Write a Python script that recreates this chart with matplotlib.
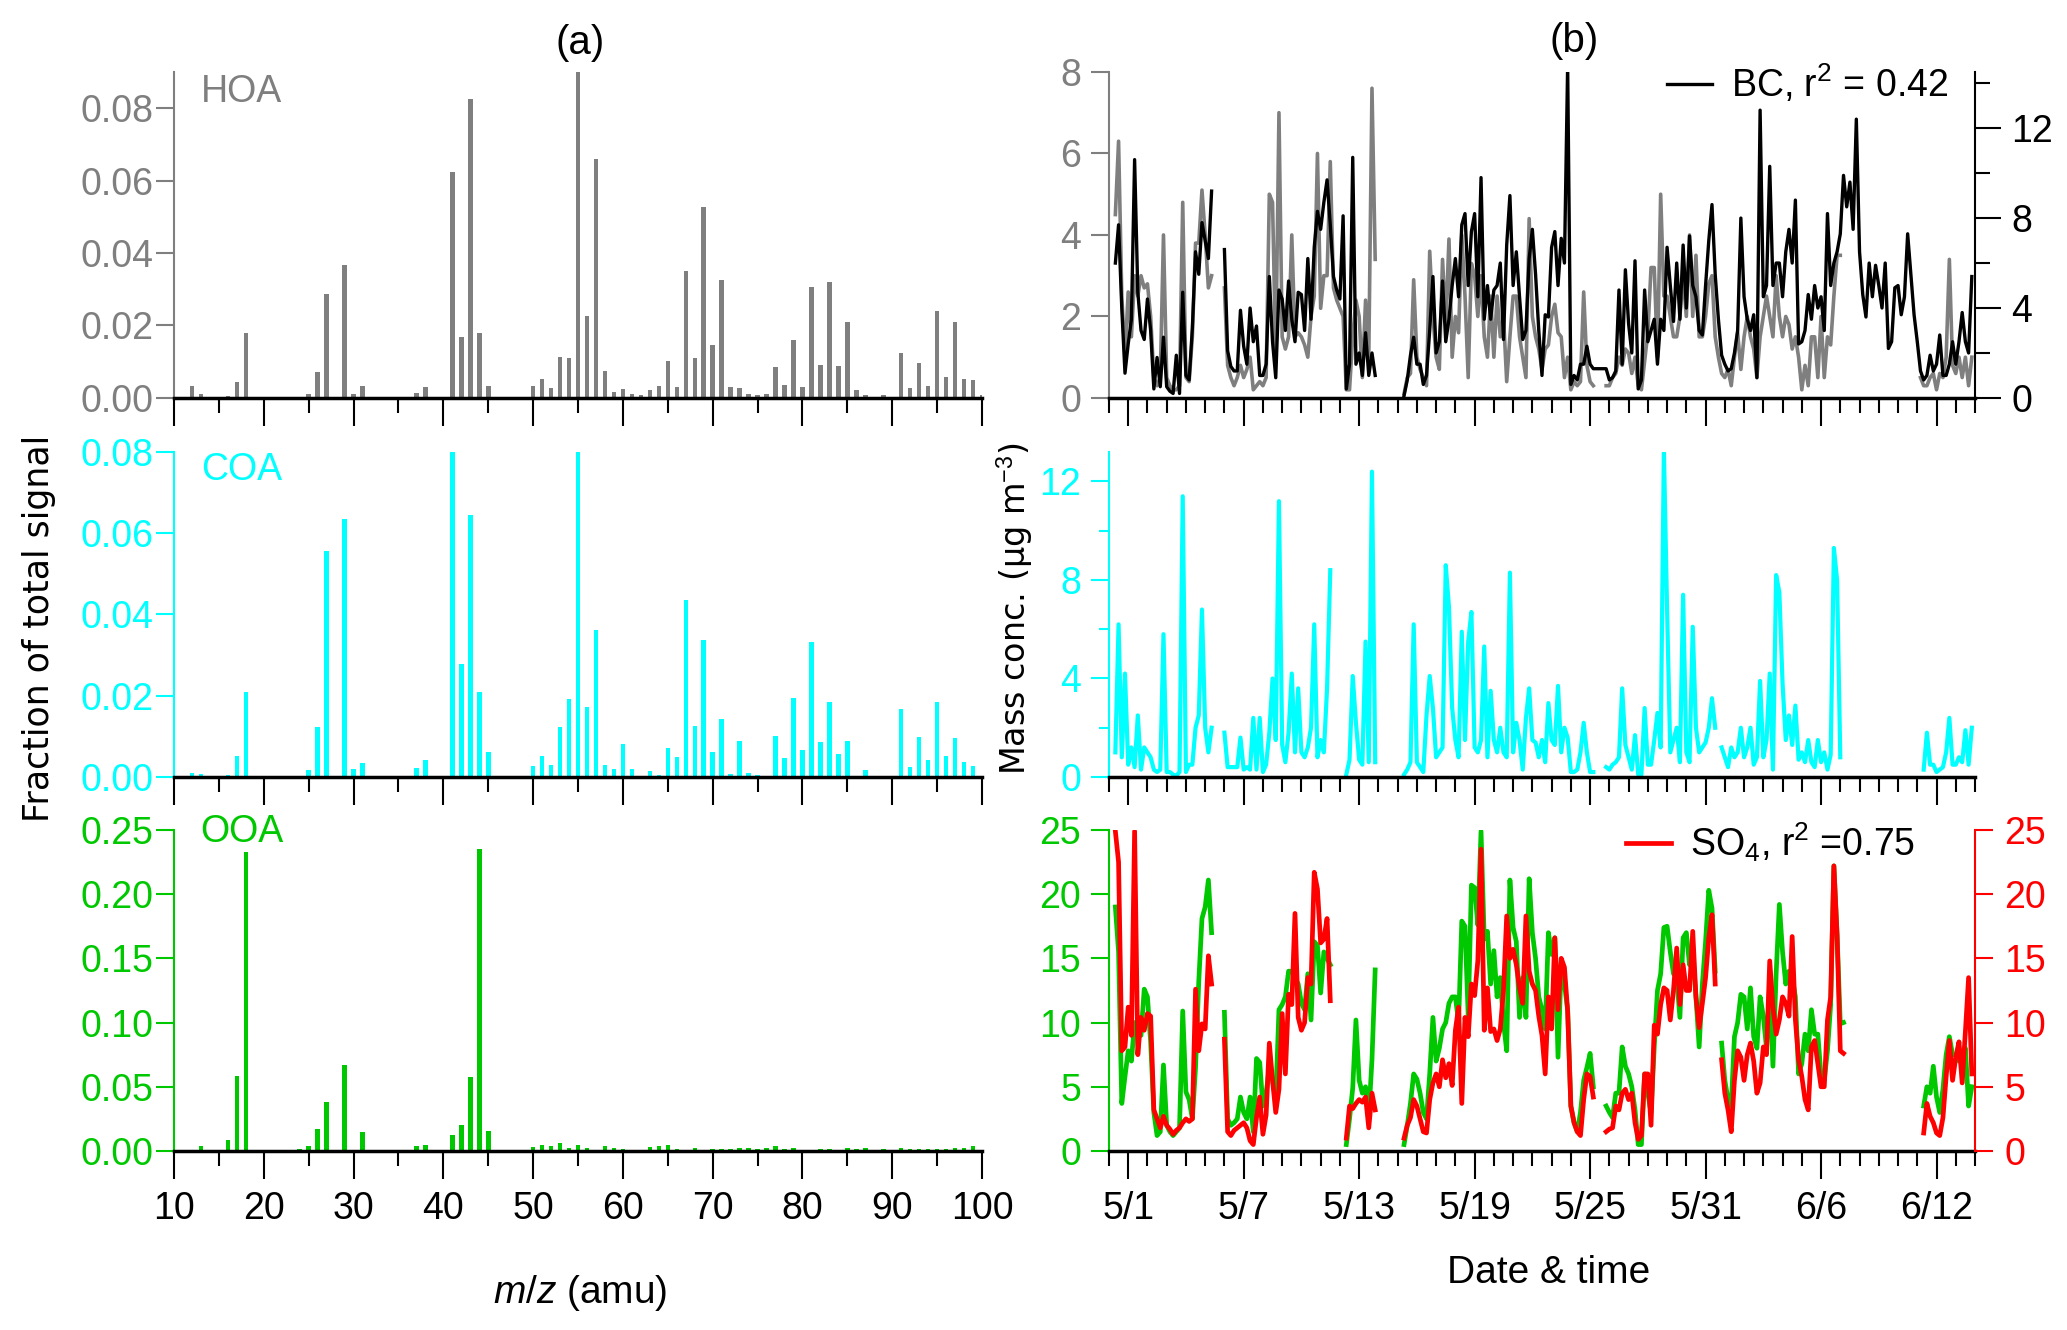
import numpy as np
import pandas as pd
import matplotlib
matplotlib.use('Agg')
import matplotlib.pyplot as plt
import matplotlib.dates as mdates
from matplotlib.ticker import MultipleLocator, FixedLocator, FormatStrFormatter

nan = np.nan

# ---- (a) factor mass spectra, m/z 12..100 ----
mz = np.arange(12, 101)
hoa_ms = [0.0034, 0.0012, 0, 0.0002, 0.0005, 0.0043, 0.018, 0, 0, 0, 0, 0, 0,          # 12-24
          0.001, 0.0072, 0.0288, 0, 0.0366, 0.001, 0.0032, 0, 0, 0, 0.0002, 0,           # 25-36
          0.0014, 0.003, 0, 0, 0.0625, 0.0169, 0.0825, 0.018, 0.0032, 0, 0, 0, 0,          # 37-49
          0.0032, 0.0053, 0.0028, 0.0112, 0.0109, 0.092, 0.0226, 0.0659, 0.0074, 0.0016,  # 50-59
          0.0025, 0.0011, 0.0007, 0.0023, 0.0034, 0.0101, 0.003, 0.035, 0.0109, 0.0528,   # 60-69
          0.0146, 0.0325, 0.003, 0.0028, 0.0011, 0.0009, 0.0011, 0.0086, 0.0037, 0.0161,  # 70-79
          0.003, 0.0307, 0.0092, 0.032, 0.0088, 0.0211, 0.0021, 0.0008, 0.0002, 0.0008,   # 80-89
          0, 0.0124, 0.0028, 0.0097, 0.0034, 0.0241, 0.0057, 0.0211, 0.0053, 0.0049,      # 90-99
          0.0007]
coa_ms = [0.0011, 0.0008, 0, 0, 0.0006, 0.0051, 0.0209, 0, 0, 0, 0, 0, 0,
          0.0016, 0.0123, 0.0555, 0, 0.0634, 0.002, 0.0035, 0, 0, 0, 0, 0,
          0.0023, 0.0043, 0, 0, 0.082, 0.0277, 0.0644, 0.0209, 0.0061, 0, 0, 0, 0,
          0.0027, 0.0051, 0.0029, 0.0123, 0.0193, 0.082, 0.0172, 0.0361, 0.0029, 0.0019,
          0.0082, 0.0019, 0.0002, 0.0015, 0.0004, 0.0072, 0.0048, 0.0436, 0.0125, 0.0338,
          0.0062, 0.0142, 0.0007, 0.0089, 0.0011, 0.0004, 0, 0.0101, 0.0047, 0.0194,
          0.0066, 0.0332, 0.0086, 0.0185, 0.0057, 0.0088, 0, 0.0016, 0, 0,
          0, 0.0167, 0.0025, 0.0098, 0.0041, 0.0185, 0.0052, 0.0096, 0.0037, 0.0026,
          0]
ooa_ms = [0, 0.0036, 0, 0, 0.0088, 0.0587, 0.233, 0, 0, 0, 0, 0, 0.0018,
          0.0036, 0.0174, 0.0382, 0, 0.0673, 0, 0.0148, 0, 0, 0, 0, 0,
          0.0036, 0.0049, 0, 0, 0.0127, 0.02, 0.0577, 0.235, 0.0156, 0, 0, 0, 0,
          0.003, 0.005, 0.0036, 0.0062, 0.0026, 0.0044, 0.0023, 0, 0.0039, 0.0026,
          0.0016, 0, 0.001, 0.003, 0.0036, 0.0047, 0.0013, 0, 0.0026, 0,
          0.0013, 0.0018, 0.0018, 0.0023, 0.0026, 0.0018, 0.0023, 0.0039, 0.0018, 0.0026,
          0, 0, 0.0018, 0.0013, 0, 0.0023, 0.0018, 0.002, 0, 0.0018,
          0, 0.0026, 0.0013, 0.0013, 0.0013, 0.0013, 0.0018, 0.002, 0.002, 0.0036,
          0]

# ---- (b) time series, 4-hourly from 4/30 00:00 (two days per row) ----
hoa_ts = [
    nan, nan, 4.5, 6.3, 2.5, 1.0,   2.6, 1.5, 3.0, 2.5, 3.0, 2.7,
    2.8, 2.0, 0.5, 0.3, 0.5, 4.0,   0.5, 0.3, 0.2, 0.2, 0.3, 4.8,
    0.5, 0.4, 1.5, 3.8, 3.8, 5.1,   4.0, 2.7, 3.0, nan, nan, nan,
    2.7, 0.8, 0.5, 0.3, 0.5, 0.8,   0.5, 0.7, 1.0, 0.2, 0.3, 0.4,
    0.3, 0.5, 5.0, 4.8, 1.0, 7.0,   1.5, 1.2, 1.5, 4.0, 1.5, 1.6,
    1.5, 1.3, 1.0, 2.0, 2.5, 6.0,   2.2, 3.0, 3.0, 5.8, 2.7, 2.4,
    2.2, 2.0, 0.2, 0.2, 1.5, 2.4,   2.0, 0.5, 2.4, 1.0, 7.6, 3.4,
    nan, nan, nan, nan, nan, nan,   nan, nan, 0.1, 0.5, 0.6, 2.9,
    1.0, 0.7, 0.5, 0.3, 3.6, 2.0,   1.0, 0.7, 3.4, 1.8, 3.9, 1.0,
    2.0, 1.6, 4.0, 2.5, 0.5, 3.3,   3.0, 2.0, 3.0, 1.5, 1.0, 2.5,
    1.0, 2.5, 1.5, 2.0, 0.4, 1.5,   2.5, 2.5, 1.5, 1.0, 0.5, 4.4,
    2.0, 1.5, 1.2, 0.7, 1.2, 1.3,   2.0, 2.3, 1.6, 1.5, 0.5, 1.0,
    0.2, 0.4, 0.3, 0.4, 2.6, 0.8,   0.4, 0.3, nan, nan, nan, 0.3,
    0.3, 0.5, 0.6, 1.0, 0.8, 1.2,   1.1, 0.6, 1.0, 0.3, 0.2, 0.9,
    1.6, 3.2, 3.2, 1.0, 5.0, 2.5,   2.5, 2.0, 1.5, 1.5, 2.0, 3.0,
    2.0, 4.0, 2.0, 3.5, 1.5, 1.5,   2.0, 2.8, 3.0, 1.5, 1.0, 0.6,
    0.5, 0.7, 0.3, 1.0, 1.6, 0.7,   1.5, 2.0, 1.5, 1.2, 0.5, 1.5,
    2.0, 2.5, 2.0, 1.5, 3.0, 2.0,   1.5, 2.0, 1.8, 1.2, 1.5, 1.0,
    0.2, 0.8, 0.3, 1.5, 1.5, 0.5,   2.0, 0.5, 1.5, 1.3, 2.5, 3.5,
    3.5, nan, nan, nan, nan, nan,   nan, nan, nan, nan, nan, nan,
    nan, nan, nan, nan, nan, nan,   nan, nan, nan, nan, nan, nan,
    nan, 0.5, 0.3, 0.3, 0.5, 0.6,   0.2, 0.6, 0.5, 1.0, 3.4, 0.8,
    0.6, 1.0, 0.5, 1.0, 0.3, 1.0,
]
bc_ts = [
    nan, nan, 6.0, 7.7, 4.0, 1.1,   2.4, 3.5, 10.6, 4.7, 3.0, 2.6,
    4.4, 3.0, 0.4, 1.8, 0.5, 2.7,   0.5, 0.3, 0.2, 1.9, 0.2, 4.7,
    1.0, 0.8, 3.1, 6.5, 5.5, 7.8,   7.0, 6.2, 9.2, nan, nan, nan,
    6.6, 2.1, 1.4, 1.2, 1.2, 3.9,   2.3, 1.5, 4.0, 2.5, 3.2, 1.0,
    1.0, 1.5, 5.4, 2.5, 0.9, 4.8,   4.4, 3.0, 5.2, 3.5, 2.5, 4.7,
    4.6, 3.0, 6.2, 3.5, 6.7, 8.3,   7.5, 8.7, 9.7, 7.7, 5.4, 4.8,
    4.4, 8.1, 0.4, 1.5, 10.7, 1.5,  2.0, 1.0, 2.9, 1.0, 2.0, 1.0,
    nan, nan, nan, nan, nan, nan,   nan, nan, 0.1, 0.8, 1.9, 2.7,
    1.5, 1.5, 0.6, 1.0, 3.0, 5.4,   2.0, 2.5, 5.2, 2.5, 3.5, 5.0,
    6.2, 4.5, 7.7, 8.2, 5.0, 7.4,   8.2, 4.5, 9.8, 3.5, 5.0, 3.5,
    4.8, 5.0, 6.0, 2.6, 6.8, 9.0,   5.0, 6.5, 4.5, 2.6, 3.0, 6.2,
    7.5, 5.5, 3.0, 1.0, 3.7, 3.6,   6.7, 7.4, 5.0, 7.1, 6.0, 14.8,
    0.6, 1.0, 0.8, 1.5, 1.5, 2.3,   1.5, 1.3, 1.3, 1.3, 1.3, 1.3,
    0.8, 0.9, 1.2, 4.8, 1.5, 5.7,   3.3, 2.0, 6.1, 0.4, 0.8, 4.8,
    2.5, 3.0, 3.5, 1.5, 3.5, 3.0,   6.7, 5.0, 3.4, 6.0, 3.5, 6.8,
    4.0, 7.2, 5.0, 4.5, 3.0, 2.8,   5.0, 7.0, 8.6, 5.5, 3.5, 1.9,
    1.5, 1.2, 1.3, 2.0, 3.0, 8.0,   4.5, 3.5, 3.0, 3.7, 0.9, 12.8,
    4.5, 5.0, 10.3, 5.0, 6.0, 6.0,  4.5, 6.5, 7.5, 6.0, 8.8, 2.4,
    2.5, 3.0, 4.6, 3.5, 5.0, 4.0,   4.5, 3.0, 8.2, 5.0, 6.0, 6.5,
    7.3, 9.9, 8.5, 9.6, 7.5, 12.4,  6.5, 4.6, 3.6, 6.0, 4.5, 5.9,
    5.0, 4.0, 6.0, 2.2, 2.5, 4.9,   5.0, 3.7, 4.5, 7.3, 5.5, 3.7,
    2.5, 1.2, 0.8, 1.0, 1.9, 1.2,   1.5, 2.8, 1.0, 1.0, 1.5, 2.5,
    1.5, 2.5, 3.8, 2.5, 2.0, 5.4,
]
coa_ts = [
    nan, nan, 1.0, 6.2, 0.8, 4.2,   0.5, 1.2, 0.4, 2.5, 0.3, 1.2,
    1.0, 0.8, 0.3, 0.2, 0.3, 5.8,   0.2, 0.2, 0.1, 0.05, 0.2, 11.4,
    0.2, 0.5, 0.5, 2.0, 2.5, 6.8,   2.0, 1.0, 2.0, nan, nan, nan,
    1.8, 0.4, 0.4, 0.4, 0.4, 1.6,   0.3, 0.4, 0.3, 2.4, 0.3, 2.4,
    0.2, 0.5, 1.8, 4.0, 1.5, 11.2,  1.3, 0.6, 1.8, 4.2, 1.0, 3.6,
    1.0, 0.8, 1.2, 2.0, 6.2, 0.8,   1.5, 1.0, 3.6, 8.4, nan, nan,
    nan, nan, 0.1, 0.7, 4.1, 2.2,   0.7, 0.5, 5.5, 0.6, 12.4, 0.6,
    nan, nan, nan, nan, nan, nan,   nan, nan, 0.1, 0.3, 0.6, 6.2,
    0.6, 0.4, 0.2, 2.5, 4.1, 2.8,   0.8, 1.0, 1.2, 8.6, 6.9, 2.8,
    1.5, 0.8, 5.9, 1.5, 5.5, 6.7,   1.2, 1.0, 1.5, 5.3, 0.8, 3.5,
    1.5, 1.0, 2.0, 1.0, 0.8, 8.3,   1.0, 2.2, 1.5, 0.3, 2.4, 3.6,
    1.5, 1.4, 0.8, 1.5, 0.6, 3.0,   1.5, 1.3, 3.7, 1.0, 2.0, 1.6,
    0.2, 0.2, 0.3, 1.0, 2.2, 1.0,   0.2, 0.2, nan, nan, nan, 0.4,
    0.3, 0.5, 0.6, 0.8, 3.6, 1.3,   0.8, 0.3, 1.7, 0.1, 0.1, 2.8,
    0.5, 0.5, 1.5, 2.6, 1.2, 13.3,  6.8, 1.0, 1.5, 2.0, 0.6, 7.4,
    1.0, 0.6, 6.1, 2.0, 1.0, 1.2,   1.4, 2.0, 3.2, 2.0, nan, 1.2,
    0.8, 0.4, 1.2, 0.8, 1.0, 2.0,   0.8, 1.2, 2.0, 0.5, 0.8, 3.9,
    0.8, 1.5, 4.2, 0.3, 8.2, 7.5,   3.8, 1.5, 2.5, 1.3, 2.9, 0.7,
    1.0, 0.6, 1.5, 0.6, 0.4, 1.5,   0.6, 1.0, 0.3, 0.9, 9.3, 8.0,
    0.8, nan, nan, nan, nan, nan,   nan, nan, nan, nan, nan, nan,
    nan, nan, nan, nan, nan, nan,   nan, nan, nan, nan, nan, nan,
    nan, nan, 0.3, 1.8, 0.5, 0.5,   0.2, 0.3, 0.4, 1.0, 2.4, 0.5,
    0.5, 0.8, 0.6, 1.9, 0.5, 2.0,
]
ooa_ts = [
    nan, nan, 19.0, 15.5, 3.7, 5.8,      7.8, 7.0, 10.0, 9.0, 9.0, 12.6,
    12.0, 8.5, 3.0, 1.2, 1.5, 6.7,       2.0, 1.5, 1.2, 1.5, 1.8, 10.9,
    4.6, 4.0, 2.5, 6.5, 13.2, 18.1,      19.0, 21.1, 17.0, nan, nan, nan,
    10.8, 2.5, 2.0, 2.2, 2.5, 4.2,       3.0, 2.5, 4.2, 1.5, 7.2, 6.9,
    3.5, 4.5, 6.5, 5.5, 4.0, 11.0,       11.4, 12.0, 14.0, 14.0, 13.5, 13.0,
    11.5, 11.0, 13.8, 10.2, 16.3, 16.0,  12.3, 15.5, 15.0, 14.5, nan, nan,
    nan, nan, 0.5, 2.5, 4.9, 10.2,       5.5, 4.5, 5.0, 2.7, 7.1, 14.1,
    nan, nan, nan, nan, nan, nan,        nan, nan, 0.5, 2.0, 3.7, 6.0,
    5.6, 4.5, 3.0, 2.5, 6.0, 10.4,       7.0, 8.0, 9.5, 10.0, 11.5, 12.0,
    12.0, 10.0, 17.9, 17.5, 10.5, 20.7,  20.5, 17.6, 24.9, 16.5, 17.1, 13.0,
    15.6, 12.0, 13.5, 10.0, 7.8, 21.1,   17.4, 16.3, 10.4, 13.5, 10.4, 21.2,
    17.0, 15.0, 12.0, 11.0, 9.5, 17.0,   15.3, 16.6, 7.3, 14.5, 13.0, 11.0,
    3.5, 2.2, 1.5, 3.0, 5.5, 6.5,        7.6, 5.0, nan, nan, nan, 3.5,
    3.0, 2.6, 4.5, 4.5, 8.1, 6.6,        6.0, 5.0, 3.2, 0.5, 0.5, 6.0,
    4.5, 3.0, 8.1, 12.5, 13.8, 17.4,     17.5, 15.5, 13.8, 13.5, 10.4, 16.6,
    17.0, 14.5, 15.5, 12.0, 8.1, 13.0,   16.3, 20.3, 18.9, 14.0, nan, 8.4,
    5.5, 4.0, 3.5, 8.9, 10.0, 12.2,      12.0, 9.5, 12.7, 8.9, 8.0, 12.0,
    10.5, 8.0, 13.0, 6.6, 13.8, 19.2,    15.5, 13.0, 14.0, 13.5, 12.0, 6.0,
    6.8, 9.1, 7.8, 11.0, 9.1, 9.1,       5.8, 5.5, 7.8, 11.4, 22.2, 16.8,
    9.9, 10.0, nan, nan, nan, nan,       nan, nan, nan, nan, nan, nan,
    nan, nan, nan, nan, nan, nan,        nan, nan, nan, nan, nan, nan,
    nan, nan, 3.5, 5.0, 4.5, 6.6,        4.2, 3.0, 4.8, 7.5, 8.9, 7.5,
    7.5, 7.0, 7.0, 8.0, 3.5, 5.0,
]
so4_ts = [
    nan, nan, 24.9, 22.5, 7.8, 8.1,      11.2, 9.0, 24.9, 7.5, 10.4, 9.4,
    10.7, 10.5, 3.2, 2.5, 1.8, 2.7,      2.0, 1.7, 1.3, 1.6, 1.8, 2.2,
    2.5, 2.3, 2.5, 12.6, 7.8, 9.9,       9.5, 15.2, 13.0, nan, nan, nan,
    8.7, 1.5, 1.2, 1.6, 1.8, 2.0,        2.2, 1.8, 0.8, 0.5, 2.6, 4.2,
    1.3, 2.8, 8.4, 5.5, 3.0, 4.8,        10.7, 6.0, 12.2, 11.4, 18.5, 10.4,
    9.4, 10.0, 13.5, 13.0, 21.7, 20.4,   16.2, 16.5, 18.1, 11.7, nan, nan,
    nan, nan, 1.0, 3.5, 3.3, 3.7,        4.0, 3.8, 4.2, 1.8, 4.5, 3.2,
    nan, nan, nan, nan, nan, nan,        nan, nan, 1.0, 2.0, 2.6, 4.0,
    3.5, 2.5, 1.5, 1.4, 4.0, 5.3,        6.0, 5.0, 7.1, 5.7, 6.8, 5.1,
    9.4, 11.2, 3.7, 10.4, 8.9, 13.0,     12.1, 14.8, 23.5, 9.4, 12.7, 9.3,
    9.5, 8.6, 9.5, 12.5, 18.3, 15.0,     15.7, 14.5, 12.7, 11.5, 18.3, 14.0,
    13.0, 12.5, 10.5, 9.0, 6.0, 12.0,    9.5, 16.6, 11.0, 15.0, 14.3, 10.9,
    3.5, 2.2, 1.5, 1.2, 4.0, 6.0,        5.8, 4.2, nan, nan, nan, 1.5,
    1.7, 1.8, 3.5, 3.2, 4.5, 4.8,        4.0, 4.5, 2.2, 0.9, 1.2, 6.0,
    6.0, 2.0, 9.8, 9.1, 11.4, 12.7,      12.5, 10.2, 12.5, 15.8, 11.4, 14.5,
    12.5, 12.5, 17.1, 12.0, 9.6, 11.5,   13.5, 16.6, 18.4, 13.0, nan, 7.1,
    4.5, 3.2, 1.5, 5.5, 7.8, 7.3,        5.5, 7.5, 8.4, 7.0, 4.5, 5.3,
    8.1, 7.5, 14.8, 11.2, 9.1, 10.2,     12.0, 11.5, 10.5, 16.7, 10.2, 7.1,
    5.8, 4.0, 3.2, 8.1, 8.6, 6.8,        5.0, 5.0, 10.2, 12.0, 22.2, 16.8,
    7.8, 7.6, nan, nan, nan, nan,        nan, nan, nan, nan, nan, nan,
    nan, nan, nan, nan, nan, nan,        nan, nan, nan, nan, nan, nan,
    nan, nan, 1.4, 3.7, 2.7, 2.2,        1.4, 1.2, 2.6, 5.8, 8.6, 5.5,
    7.3, 8.5, 5.3, 9.3, 13.5, 6.0,
]
date_labels = ['2014-05-01', '2014-05-07', '2014-05-13', '2014-05-19',
               '2014-05-25', '2014-05-31', '2014-06-06', '2014-06-12']

times = pd.date_range('2014-04-30', periods=len(hoa_ts), freq='4h')
t_start, t_end = pd.Timestamp('2014-04-30'), pd.Timestamp('2014-06-14')

GRAY, CYAN, GREEN, RED = '#7f7f7f', '#00ffff', '#00c800', '#ff0000'
FS = 27

plt.rcParams['font.family'] = ['Liberation Sans', 'DejaVu Sans']
plt.rcParams['mathtext.fontset'] = 'custom'
plt.rcParams['mathtext.rm'] = 'Liberation Sans'
plt.rcParams['mathtext.it'] = 'Liberation Sans:italic'
plt.rcParams['mathtext.bf'] = 'Liberation Sans:bold'

fig = plt.figure(figsize=(20.67, 13.30), dpi=100)

col_a = (0.0842, 0.3909)
col_b = (0.5365, 0.4190)
rows = [(0.7008, 0.2451), (0.4158, 0.2444), (0.1346, 0.2414)]


def base_axes(ax, color):
    ax.spines['top'].set_visible(False)
    ax.spines['right'].set_visible(False)
    ax.spines['left'].set_color(color)
    ax.spines['left'].set_linewidth(1.5)
    ax.spines['bottom'].set_linewidth(2.5)
    ax.patch.set_alpha(0)


def spectrum(row, values, color, ymax, ystep, name, name_y, last):
    ax = fig.add_axes([col_a[0], rows[row][0], col_a[1], rows[row][1]])
    ax.bar(mz, values, width=0.5, color=color, linewidth=0)
    ax.set_xlim(10, 100)
    ax.set_ylim(0, ymax)
    base_axes(ax, color)
    ax.xaxis.set_major_locator(MultipleLocator(10))
    ax.xaxis.set_minor_locator(MultipleLocator(5))
    ax.tick_params(axis='x', which='major', length=20, width=1.5, labelsize=FS, pad=9, labelbottom=last)
    ax.tick_params(axis='x', which='minor', length=11, width=1.5)
    ax.yaxis.set_major_locator(MultipleLocator(ystep))
    ax.yaxis.set_major_formatter(FormatStrFormatter('%.2f'))
    ax.tick_params(axis='y', length=13, width=1.5, color=color, labelcolor=color, labelsize=FS, pad=2)
    ax.text(0.033, name_y, name, transform=ax.transAxes, color=color, fontsize=FS, va='baseline')
    return ax


def series_axes(row, color, last):
    ax = fig.add_axes([col_b[0], rows[row][0], col_b[1], rows[row][1]])
    base_axes(ax, color)
    ax.set_xlim(t_start, t_end)
    ax.xaxis.set_major_locator(FixedLocator(mdates.date2num(pd.to_datetime(date_labels))))
    ax.xaxis.set_minor_locator(mdates.DayLocator())
    ax.xaxis.set_major_formatter(mdates.DateFormatter('%-m/%-d'))
    ax.tick_params(axis='x', which='major', length=20, width=1.5, labelsize=FS, pad=9, labelbottom=last)
    ax.tick_params(axis='x', which='minor', length=11, width=1.5)
    ax.tick_params(axis='y', which='major', length=13, width=1.5, color=color, labelcolor=color, labelsize=FS, pad=7)
    ax.tick_params(axis='y', which='minor', length=7, width=1.5, color=color)
    return ax


def right_axis(ax, color):
    axr = ax.twinx()
    for s in ['left', 'top', 'bottom']:
        axr.spines[s].set_visible(False)
    axr.spines['right'].set_color(color)
    axr.spines['right'].set_linewidth(1.5)
    axr.tick_params(axis='y', which='major', length=19, width=1.5, color=color, labelcolor=color, labelsize=FS, pad=7)
    axr.tick_params(axis='y', which='minor', length=11, width=1.5, color=color)
    return axr


# ---- panel (a) ----
spectrum(0, hoa_ms, GRAY, 0.09, 0.02, 'HOA', 0.908, False)
spectrum(1, coa_ms, CYAN, 0.08, 0.02, 'COA', 0.914, False)
spectrum(2, ooa_ms, GREEN, 0.25, 0.05, 'OOA', 0.963, True)

# ---- panel (b) ----
ax1 = series_axes(0, GRAY, False)
ax1.plot(times, hoa_ts, color=GRAY, lw=2.6)
ax1.set_ylim(0, 8)
ax1.yaxis.set_major_locator(MultipleLocator(2))
ax1r = right_axis(ax1, 'black')
ax1r.plot(times, bc_ts, color='black', lw=2.4, label=r'BC, r$^2$ = 0.42')
ax1r.set_ylim(0, 14.5)
ax1r.yaxis.set_major_locator(MultipleLocator(4))
ax1r.yaxis.set_minor_locator(MultipleLocator(2))
ax1r.legend(loc='upper right', bbox_to_anchor=(0.969, 1.03), frameon=False, fontsize=FS,
            handlelength=1.2, handletextpad=0.5, borderpad=0, borderaxespad=0)

ax2 = series_axes(1, CYAN, False)
ax2.plot(times, coa_ts, color=CYAN, lw=3.0)
ax2.set_ylim(0, 13.2)
ax2.yaxis.set_major_locator(MultipleLocator(4))
ax2.yaxis.set_minor_locator(MultipleLocator(2))

ax3 = series_axes(2, GREEN, True)
ax3.plot(times, ooa_ts, color=GREEN, lw=3.4)
ax3.set_ylim(0, 25)
ax3.yaxis.set_major_locator(MultipleLocator(5))
ax3r = right_axis(ax3, RED)
ax3r.plot(times, so4_ts, color=RED, lw=3.4, label=r'SO$_4$, r$^2$ =0.75')
ax3r.set_ylim(0, 25)
ax3r.yaxis.set_major_locator(MultipleLocator(5))
ax3r.tick_params(axis='y', which='major', length=13, pad=8)
ax3r.legend(loc='upper right', bbox_to_anchor=(0.931, 1.03), frameon=False, fontsize=FS,
            handlelength=1.2, handletextpad=0.5, borderpad=0, borderaxespad=0)

# ---- titles and labels ----
fig.text(0.2806, 0.9677, '(a)', ha='center', va='center', fontsize=29)
fig.text(0.7615, 0.9690, '(b)', ha='center', va='center', fontsize=29)
fig.text(0.019, 0.5274, 'Fraction of total signal', rotation=90, ha='center', va='center',
         fontsize=25, family='DejaVu Sans')
fig.text(0.491, 0.542, 'Mass conc. (µg m$^{-3}$)', rotation=90, ha='center', va='center',
         fontsize=24, family='DejaVu Sans')
fig.text(0.2806, 0.0203, r'$m/z$ (amu)', ha='center', va='baseline', fontsize=28)
fig.text(0.7494, 0.0353, 'Date & time', ha='center', va='baseline', fontsize=28)

fig.savefig('out.png', dpi=100)
